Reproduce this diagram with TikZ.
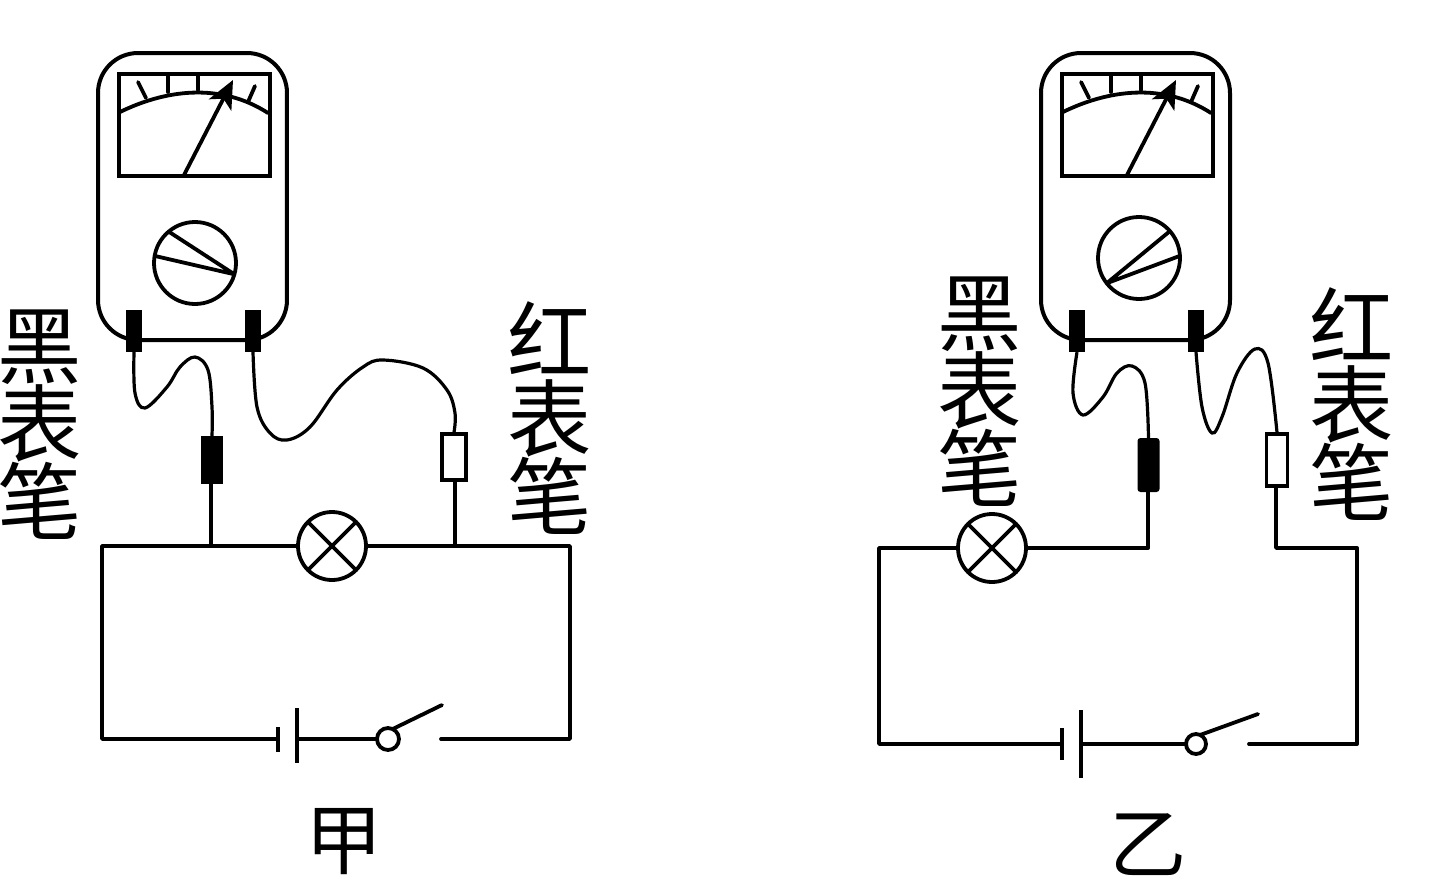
\documentclass[tikz,border=0pt]{standalone}
\usepackage{fontspec}
\setmainfont{Noto Sans CJK SC}
\usetikzlibrary{arrows.meta}
\tikzset{
  wire/.style={line width=0.19cm, line cap=round, line join=round},
  lead/.style={line width=0.16cm},
  meterBody/.style={draw, line width=0.2cm, rounded corners=2cm, minimum width=9.45cm, minimum height=14.35cm, inner sep=0},
  meterFace/.style={draw, line width=0.2cm, minimum width=7.55cm, minimum height=5.1cm, inner sep=0},
  terminal/.style={fill=black, minimum width=0.8cm, minimum height=2.1cm, inner sep=0},
  dial/.style={draw, circle, line width=0.19cm, minimum size=4.1cm, inner sep=0, outer sep=0},
  lamp/.style={draw, circle, line width=0.19cm, minimum size=3.4cm, inner sep=0, outer sep=0},
  plate/.style={fill=black, minimum width=0.2cm, inner sep=0},
  contact/.style={draw, circle, line width=0.19cm, minimum size=1.1cm, inner sep=0, outer sep=0},
  probeBlack/.style={fill=black, minimum width=1.1cm, inner sep=0},
  probeRed/.style={draw, line width=0.17cm, minimum width=1.25cm, inner sep=0},
  penLabel/.style={font=\fontsize{120}{120}\selectfont, align=center, inner sep=0},
  figLabel/.style={font=\fontsize{110}{110}\selectfont, inner sep=0},
  meter/.pic={
    \node[meterBody] (-body) at (192.5,196.5) {};
    \node[meterFace] (-face) at (194.5,125) {};
    \draw[wire] (120,112) .. controls (165,90) and (220,82) .. (268,113);
    \draw[wire] (138,82) -- (146,98);
    \draw[wire] (168,75) -- (168,92);
    \draw[wire] (198,75) -- (198,90);
    \draw[wire] (255,86) -- (248,102);
    \draw[wire, -{Stealth[length=1.4cm, width=1.25cm, inset=0.35cm]}] (184,175) -- (233,80);
    \node[terminal] (-termL) at (134,331) {};
    \node[terminal] (-termR) at (253,331) {};
  }
}
\begin{document}
\begin{tikzpicture}[x=0.05cm, y=-0.05cm]
\useasboundingbox (0,0) rectangle (1438,890);
% left circuit
\pic (mA) at (0,0) {meter};
\node[dial] (dialA) at (195,263) {};
\draw[wire] (dialA.130) -- (dialA.-16) -- (dialA.170);
\node[probeBlack, minimum height=2.4cm] (penBlackA) at (212,460) {};
\node[probeRed, minimum width=1.2cm, minimum height=2.3cm] (penRedA) at (454,457) {};
\draw[lead] plot[smooth, tension=0.6] coordinates {(mA-termL.south) (135,393) (145,408) (167,387) (180,367) (195,357) (208,370) (212,407) (penBlackA.north)};
\draw[lead] plot[smooth, tension=0.6] coordinates {(mA-termR.south) (257,407) (270,433) (287,440) (310,427) (337,390) (363,367) (383,360) (423,368) (447,390) (455,413) (penRedA.north)};
\node[lamp] (lampA) at (332,546) {};
\draw[wire] (lampA.45) -- (lampA.225) (lampA.135) -- (lampA.315);
\coordinate (tapBlackA) at (211,546);
\coordinate (tapRedA) at (455,546);
\node[plate, minimum height=1.25cm] (batNegA) at (278,739) {};
\node[plate, minimum height=2.75cm] (batPosA) at (297,735) {};
\node[contact] (swA) at (388,739) {};
\coordinate (armA) at (442,705);
\coordinate (gapA) at (441,739);
\coordinate (tlA) at (102,546);
\coordinate (blA) at (102,739);
\coordinate (brA) at (570,739);
\coordinate (trA) at (570,546);
\draw[wire] (lampA) -- (tlA) -- (blA) -- (batNegA);
\draw[wire] (batPosA.east |- swA) -- (swA);
\draw[wire] (swA.65) -- (armA);
\draw[wire] (gapA) -- (brA) -- (trA) -- (lampA);
\draw[wire] (penBlackA.south -| tapBlackA) -- (tapBlackA);
\draw[wire] (penRedA.south -| tapRedA) -- (tapRedA);
\node[penLabel] (labBlackA) at (40,425) {黑\\[-9pt]表\\[-9pt]笔};
\node[penLabel] (labRedA) at (550,418) {红\\[-9pt]表\\[-9pt]笔};
\node[figLabel] (figA) at (344,842) {甲};
% right circuit
\pic (mB) at (943,0) {meter};
\node[dial] (dialB) at (1139,258) {};
\draw[wire] (dialB.41) -- (dialB.218) -- (dialB.3);
\node[probeBlack, rounded corners=0.15cm, minimum height=2.7cm] (penBlackB) at (1148.5,465) {};
\node[probeRed, minimum width=1.05cm, minimum height=2.6cm] (penRedB) at (1277,460) {};
\draw[lead] plot[smooth, tension=0.6] coordinates {(mB-termL.south) (1073,393) (1083,415) (1103,397) (1117,373) (1132,366) (1145,383) (penBlackB.north)};
\draw[lead] plot[smooth, tension=0.6] coordinates {(mB-termR.south) (1202,407) (1212,433) (1222,417) (1237,373) (1255,349) (1268,363) (penRedB.north)};
\node[lamp] (lampB) at (992,548) {};
\draw[wire] (lampB.45) -- (lampB.225) (lampB.135) -- (lampB.315);
\coordinate (tapBlackB) at (1148,548);
\coordinate (tapRedB) at (1276,548);
\node[plate, minimum height=1.6cm] (batNegB) at (1062,744) {};
\node[plate, minimum height=3.4cm] (batPosB) at (1081,744) {};
\node[contact, minimum size=1cm] (swB) at (1196,744) {};
\coordinate (armB) at (1258,714);
\coordinate (gapB) at (1249,744);
\coordinate (tlB) at (879,548);
\coordinate (blB) at (879,744);
\coordinate (brB) at (1357,744);
\coordinate (trB) at (1357,548);
\draw[wire] (lampB) -- (tlB) -- (blB) -- (batNegB);
\draw[wire] (batPosB) -- (swB);
\draw[wire] (swB.65) -- (armB);
\draw[wire] (gapB) -- (brB) -- (trB) -- (tapRedB) -- (tapRedB |- penRedB.south);
\draw[wire] (lampB) -- (tapBlackB) -- (tapBlackB |- penBlackB.south);
\node[penLabel] (labBlackB) at (980,392) {黑\\[-9pt]表\\[-9pt]笔};
\node[penLabel] (labRedB) at (1352,404) {红\\[-9pt]表\\[-9pt]笔};
\node[figLabel] (figB) at (1148,845) {乙};
\end{tikzpicture}
\end{document}
